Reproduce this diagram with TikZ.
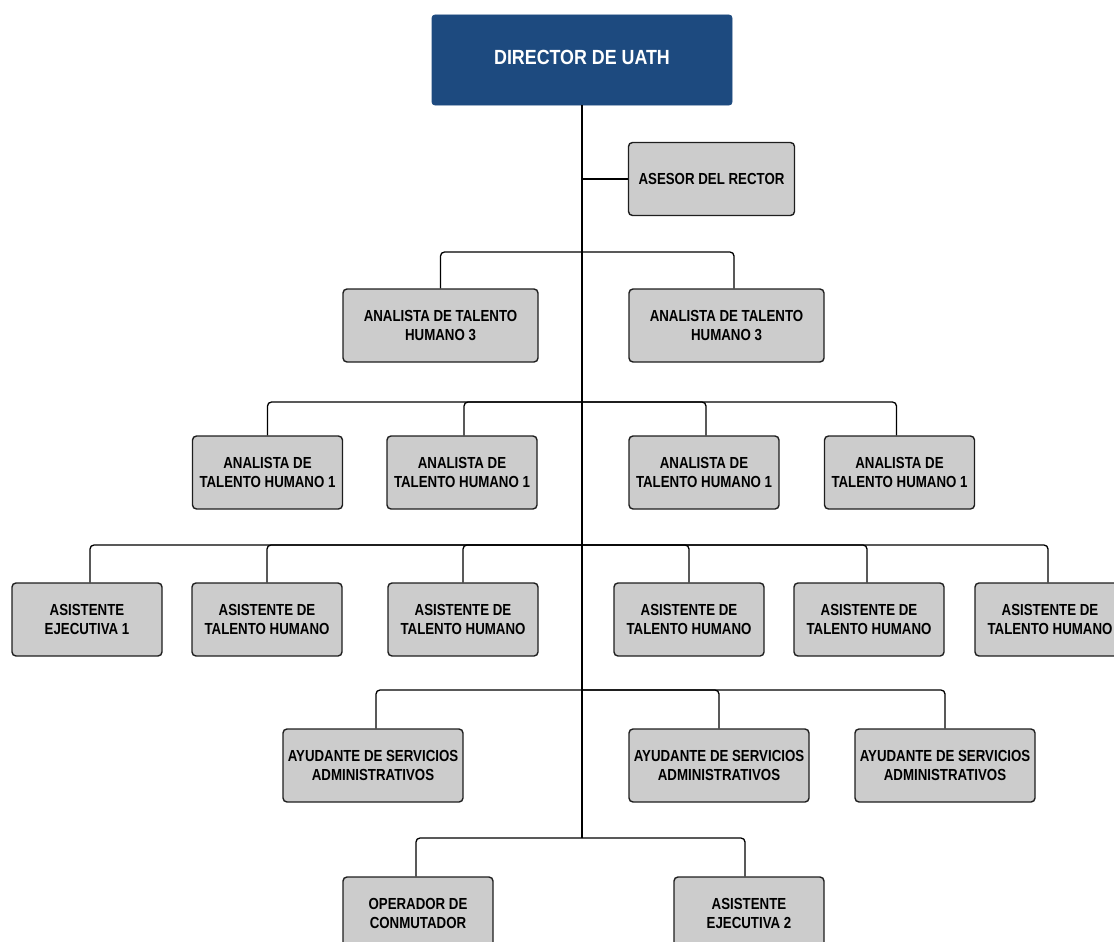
\documentclass[tikz,border=0pt]{standalone}
\usepackage{fontspec}
\newfontfamily\boxfont[FakeStretch=0.83]{Liberation Sans}
\newfontfamily\headfont[FakeStretch=0.87]{Liberation Sans}
\definecolor{headblue}{HTML}{1D4A7F}
\definecolor{boxgray}{HTML}{CCCCCC}
\definecolor{edgegray}{HTML}{1E1E1E}
\begin{document}
\begin{tikzpicture}[x=1pt,y=-1pt,
  dirbox/.style={draw=headblue, fill=headblue, rounded corners=3pt, line width=0.8pt,
    minimum width=300pt, minimum height=90pt, inner sep=0pt, text=white,
    font=\headfont\bfseries\fontsize{20.5}{24}\selectfont},
  posbox/.style={draw=edgegray, fill=boxgray, rounded corners=4pt, line width=1.4pt,
    minimum height=73pt, inner sep=0pt, align=center,
    font=\boxfont\bfseries\fontsize{16}{19}\selectfont},
  narrowbox/.style={posbox, minimum width=150pt},
  widebox/.style={posbox, minimum width=195pt},
  servbox/.style={posbox, minimum width=180pt},
  conn/.style={draw=black, line width=1.3pt, rounded corners=4pt},
  trunk/.style={draw=black, line width=1.7pt}]
\useasboundingbox (0,0) rectangle (1114,942);

% head of the unit and the main vertical line
\node[dirbox] (dir) at (582,60) {\raisebox{3pt}[\height][\depth]{DIRECTOR DE UATH}};
\coordinate (b1) at (582,179);
\coordinate (b2) at (582,252);
\coordinate (b3) at (582,402);
\coordinate (b4) at (582,545);
\coordinate (b5) at (582,690);
\coordinate (b6) at (582,838);

% advisor
\node[posbox, minimum width=166pt] (ases) at (711.5,179) {ASESOR DEL RECTOR};

% level 3 analysts
\node[widebox] (an3a) at (440.5,325.5) {ANALISTA DE TALENTO\\HUMANO 3};
\node[widebox] (an3b) at (726.5,325.5) {ANALISTA DE TALENTO\\HUMANO 3};

% level 1 analysts
\node[narrowbox] (an1a) at (267.5,472.5) {ANALISTA DE\\TALENTO HUMANO 1};
\node[narrowbox] (an1b) at (462,472.5) {ANALISTA DE\\TALENTO HUMANO 1};
\node[narrowbox] (an1c) at (704,472.5) {ANALISTA DE\\TALENTO HUMANO 1};
\node[narrowbox] (an1d) at (899.5,472.5) {ANALISTA DE\\TALENTO HUMANO 1};

% assistants
\node[narrowbox] (as1) at (87,619.5) {ASISTENTE\\EJECUTIVA 1};
\node[narrowbox] (as2) at (267,619.5) {ASISTENTE DE\\TALENTO HUMANO};
\node[narrowbox] (as3) at (463,619.5) {ASISTENTE DE\\TALENTO HUMANO};
\node[narrowbox] (as4) at (689,619.5) {ASISTENTE DE\\TALENTO HUMANO};
\node[narrowbox] (as5) at (869,619.5) {ASISTENTE DE\\TALENTO HUMANO};
\node[narrowbox] (as6) at (1050,619.5) {ASISTENTE DE\\TALENTO HUMANO};

% administrative services
\node[servbox] (ay1) at (373,765.5) {AYUDANTE DE SERVICIOS\\ADMINISTRATIVOS};
\node[servbox] (ay2) at (719,765.5) {AYUDANTE DE SERVICIOS\\ADMINISTRATIVOS};
\node[servbox] (ay3) at (945,765.5) {AYUDANTE DE SERVICIOS\\ADMINISTRATIVOS};

% bottom row
\node[narrowbox] (op) at (418,913.5) {OPERADOR DE\\CONMUTADOR};
\node[narrowbox] (ej2) at (749,913.5) {ASISTENTE\\EJECUTIVA 2};

% connectors
\draw[trunk] (dir.south) -- (b6);
\draw[conn] (b1) -- (ases.west);

\draw[conn] (b2) -| (an3a.north);
\draw[conn] (b2) -| ([xshift=7.5pt]an3b.north);

\draw[conn] (b3) -| (an1a.north);
\draw[conn] (b3) -| ([xshift=2pt]an1b.north);
\draw[conn] (b3) -| ([xshift=2pt]an1c.north);
\draw[conn] (b3) -| ([xshift=-3pt]an1d.north);

\draw[conn] (b4) -| ([xshift=3pt]as1.north);
\draw[conn] (b4) -| (as2.north);
\draw[conn] (b4) -| (as3.north);
\draw[conn] (b4) -| (as4.north);
\draw[conn] (b4) -| ([xshift=-2pt]as5.north);
\draw[conn] (b4) -| ([xshift=-2pt]as6.north);

\draw[conn] (b5) -| ([xshift=3pt]ay1.north);
\draw[conn] (b5) -| (ay2.north);
\draw[conn] (b5) -| (ay3.north);

\draw[conn] (b6) -| ([xshift=-2pt]op.north);
\draw[conn] (b6) -| ([xshift=-4pt]ej2.north);
\end{tikzpicture}
\end{document}
